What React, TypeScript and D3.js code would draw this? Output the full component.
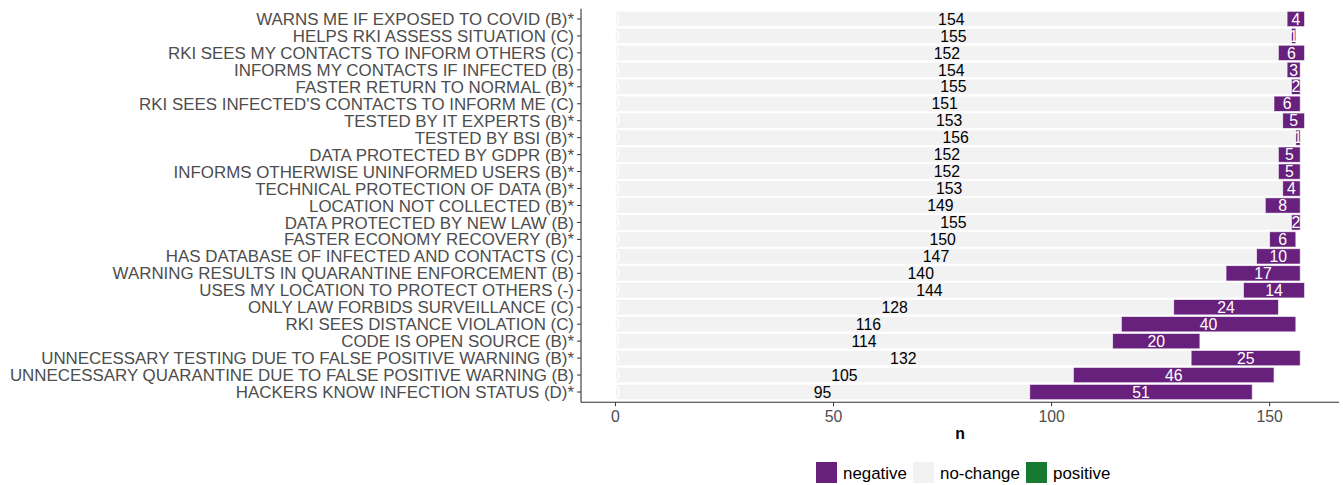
import React from "react";
import * as d3 from "d3";

const categories = [
  "WARNS ME IF EXPOSED TO COVID (B)*",
  "HELPS RKI ASSESS SITUATION (C)",
  "RKI SEES MY CONTACTS TO INFORM OTHERS (C)",
  "INFORMS MY CONTACTS IF INFECTED (B)",
  "FASTER RETURN TO NORMAL (B)*",
  "RKI SEES INFECTED'S CONTACTS TO INFORM ME (C)",
  "TESTED BY IT EXPERTS (B)*",
  "TESTED BY BSI (B)*",
  "DATA PROTECTED BY GDPR (B)*",
  "INFORMS OTHERWISE UNINFORMED USERS (B)*",
  "TECHNICAL PROTECTION OF DATA (B)*",
  "LOCATION NOT COLLECTED (B)*",
  "DATA PROTECTED BY NEW LAW (B)",
  "FASTER ECONOMY RECOVERY (B)*",
  "HAS DATABASE OF INFECTED AND CONTACTS (C)",
  "WARNING RESULTS IN QUARANTINE ENFORCEMENT (B)",
  "USES MY LOCATION TO PROTECT OTHERS (-)",
  "ONLY LAW FORBIDS SURVEILLANCE (C)",
  "RKI SEES DISTANCE VIOLATION (C)",
  "CODE IS OPEN SOURCE (B)*",
  "UNNECESSARY TESTING DUE TO FALSE POSITIVE WARNING (B)*",
  "UNNECESSARY QUARANTINE DUE TO FALSE POSITIVE WARNING (B)",
  "HACKERS KNOW INFECTION STATUS (D)*",
];
const positive = [0, 0, 0, 0, 0, 0, 0, 0, 0, 0, 0, 0, 0, 0, 0, 0, 0, 0, 0, 0, 0, 0, 0];
const noChange = [154, 155, 152, 154, 155, 151, 153, 156, 152, 152, 153, 149, 155, 150, 147, 140, 144, 128, 116, 114, 132, 105, 95];
const negative = [4, 1, 6, 3, 2, 6, 5, 1, 5, 5, 4, 8, 2, 6, 10, 17, 14, 24, 40, 20, 25, 46, 51];
const xTicks = [0, 50, 100, 150];
const legendKeys = ["negative", "no-change", "positive"];

const COLORS: Record<string, string> = {
  negative: "#68207D",
  "no-change": "#F2F2F2",
  positive: "#187A30",
};

export default function App() {
  const W = 1343, H = 485;
  const panelL = 581, panelR = 1339, panelT = 8.8, panelB = 402.2;
  const maxV = d3.max(noChange.map((v, i) => v + negative[i] + positive[i])) as number;
  const pad = maxV * 0.05;
  const x = d3.scaleLinear().domain([-pad, maxV + pad]).range([panelL, panelR]);
  const y = d3.scaleBand<string>().domain(categories).range([panelT, panelB]).paddingInner(0.1).paddingOuter(0.15);
  const bw = y.bandwidth();
  const font = "'Liberation Sans', Arial, Helvetica, sans-serif";
  const labelFs = 16.9;
  const barFs = 15.8;

  return (
    <svg width={W} height={H} style={{ position: "absolute", left: 0, top: 0 }} fontFamily={font}>
      <rect x={0} y={0} width={W} height={H} fill="white" />
      {categories.map((c, i) => {
        const y0 = y(c) as number;
        const p = positive[i], nc = noChange[i], ng = negative[i];
        const cy = y0 + bw / 2;
        return (
          <g key={c}>
            <rect x={x(p)} y={y0} width={x(p + nc) - x(p)} height={bw} fill={COLORS["no-change"]} stroke="white" strokeWidth={0.6} />
            <rect x={x(p + nc)} y={y0} width={x(p + nc + ng) - x(p + nc)} height={bw} fill={COLORS.negative} stroke="#ffffff" strokeOpacity={0.7} strokeWidth={0.8} />
            <text x={x(p / 2)} y={cy} dy="0.36em" textAnchor="middle" fontSize={barFs} fill="white">{p}</text>
            <text x={x(p + nc / 2)} y={cy} dy="0.36em" textAnchor="middle" fontSize={barFs} fill="black">{nc}</text>
            <text x={x(p + nc + ng / 2)} y={cy} dy="0.36em" textAnchor="middle" fontSize={barFs} fill="white">{ng}</text>
            <line x1={panelL - 4} x2={panelL} y1={cy} y2={cy} stroke="#333" strokeWidth={1} />
            <text x={panelL - 7} y={cy} dy="0.36em" textAnchor="end" fontSize={labelFs} fill="#4d4d4d">{c}</text>
          </g>
        );
      })}
      <line x1={panelL} x2={panelL} y1={panelT} y2={panelB} stroke="#333" strokeWidth={1.1} />
      <line x1={panelL} x2={panelR} y1={panelB} y2={panelB} stroke="#333" strokeWidth={1.1} />
      {xTicks.map((t) => (
        <g key={t}>
          <line x1={x(t)} x2={x(t)} y1={panelB} y2={panelB + 4} stroke="#333" strokeWidth={1} />
          <text x={x(t)} y={panelB + 19.5} textAnchor="middle" fontSize={15.8} fill="#4d4d4d">{t}</text>
        </g>
      ))}
      <text x={(panelL + panelR) / 2} y={439} textAnchor="middle" fontSize={15.8} fontWeight="bold" fill="black">n</text>
      {legendKeys.map((k, i) => {
        const kx = [816, 913, 1026][i];
        return (
          <g key={k}>
            <rect x={kx} y={462} width={21} height={21} fill={COLORS[k]} />
            <text x={kx + 27} y={472.5} dy="0.36em" fontSize={labelFs} fill="black">{k}</text>
          </g>
        );
      })}
    </svg>
  );
}
